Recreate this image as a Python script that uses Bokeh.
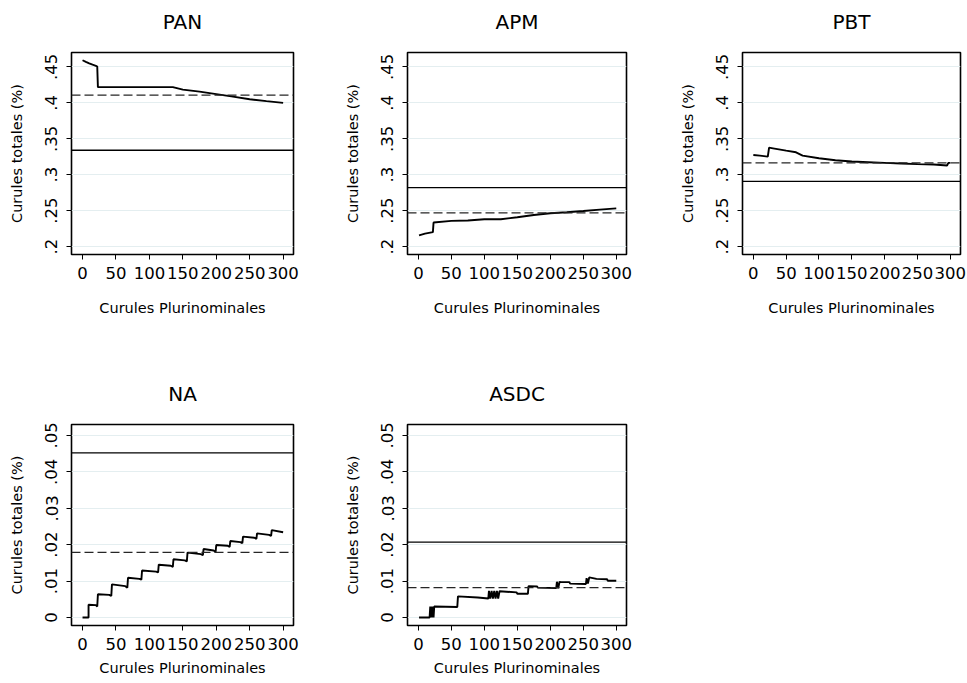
from bokeh.plotting import figure
from bokeh.layouts import column, row
from bokeh.models import Range1d, FixedTicker, Span, CustomJSTickFormatter, LinearAxis
from bokeh.embed import file_html
from bokeh.resources import INLINE

# ---------------- data ----------------
titles = ["PAN", "APM", "PBT", "NA", "ASDC"]

pan_x = [0, 5, 10, 15, 20, 22, 23, 50, 100, 135, 150, 175, 200, 225, 250, 275, 300]
pan_y = [0.4592, 0.4570, 0.4549, 0.4530, 0.4515, 0.4505, 0.4218, 0.4218, 0.4218, 0.4218,
         0.4184, 0.4155, 0.4121, 0.4087, 0.4049, 0.4024, 0.4000]
pan_solid, pan_dash = 0.334, 0.4107

apm_x = [1, 10, 22, 23, 50, 75, 100, 125, 150, 175, 200, 225, 250, 275, 300]
apm_y = [0.2156, 0.2180, 0.2202, 0.2335, 0.2358, 0.2362, 0.2381, 0.2381, 0.2408,
         0.2440, 0.2463, 0.2477, 0.2495, 0.2514, 0.2532]
apm_solid, apm_dash = 0.282, 0.247

pbt_x = [0, 10, 22, 24, 30, 50, 65, 75, 100, 125, 150, 175, 200, 225, 250, 275, 295, 297, 300]
pbt_y = [0.3275, 0.3266, 0.3252, 0.3376, 0.3367, 0.3335, 0.3312, 0.3266, 0.3229, 0.3202,
         0.3183, 0.3174, 0.3165, 0.3156, 0.3147, 0.3142, 0.3128, 0.3165, 0.3165]
pbt_solid, pbt_dash = 0.2908, 0.3165

na_x = [0, 9, 9, 20, 22, 23, 40, 43, 44, 64, 67, 68, 85, 88, 89, 110, 113, 114, 132, 135,
        136, 153, 156, 157, 177, 180, 181, 196, 199, 200, 217, 220, 221, 236, 239, 240,
        257, 260, 261, 279, 282, 283, 300]
na_y = [0, 0, 0.0035, 0.0034, 0.0030, 0.0064, 0.0062, 0.0059, 0.0091, 0.0086, 0.0082,
        0.0109, 0.0106, 0.0104, 0.0129, 0.0126, 0.0124, 0.0145, 0.0142, 0.0139, 0.0160,
        0.0157, 0.0154, 0.0178, 0.0174, 0.0171, 0.0188, 0.0184, 0.0180, 0.0199, 0.0197,
        0.0194, 0.0210, 0.0207, 0.0204, 0.0222, 0.0219, 0.0216, 0.0231, 0.0227, 0.0224,
        0.0240, 0.0234]
na_solid, na_dash = 0.0452, 0.0179

asdc_x = [1, 17, 18, 19, 20, 21, 22, 23, 24, 59, 60, 90, 106, 107, 109, 111, 113, 115, 117,
          119, 121, 123, 149, 150, 166, 167, 180, 181, 209, 210, 212, 214, 216, 229, 230,
          254, 255, 257, 259, 270, 286, 287, 300]
asdc_y = [0, 0, 0.0030, 0, 0.0030, 0, 0.0030, 0, 0.0030, 0.0029, 0.0058, 0.0055, 0.0052,
          0.0073, 0.0052, 0.0073, 0.0052, 0.0073, 0.0052, 0.0073, 0.0052, 0.0072, 0.0069,
          0.0065, 0.0065, 0.0086, 0.0085, 0.0082, 0.0081, 0.0098, 0.0080, 0.0098, 0.0097,
          0.0097, 0.0093, 0.0092, 0.0108, 0.0093, 0.0110, 0.0106, 0.0105, 0.0101, 0.0101]
asdc_solid, asdc_dash = 0.0207, 0.0082

x_ticks = [0, 50, 100, 150, 200, 250, 300]
y_ticks_top = [0.2, 0.25, 0.3, 0.35, 0.4, 0.45]
y_ticks_bottom = [0, 0.01, 0.02, 0.03, 0.04, 0.05]

x_label = "Curules Plurinominales"
y_label = "Curules totales (%)"

FONT = "DejaVu Sans"
X_LO, X_HI = -16.5, 315.5
yfmt = CustomJSTickFormatter(code="""
let s = (Math.round(tick*1000)/1000).toString();
return s.replace(/^0\\./, '.');
""")


def make(title, xs, ys, solid, dash, yr, yticks, width, bl, br, height, bt, bb, lab_stand):
    p = figure(width=width, height=height, output_backend="svg", toolbar_location=None,
               x_range=Range1d(X_LO, X_HI), y_range=Range1d(*yr),
               min_border_left=bl, min_border_right=br, min_border_top=bt,
               min_border_bottom=bb, background_fill_color="white",
               border_fill_color="white")
    p.outline_line_color = "black"
    p.outline_line_width = 1.6
    p.outline_line_alpha = 1.0

    p.xaxis.ticker = FixedTicker(ticks=x_ticks)
    p.yaxis.ticker = FixedTicker(ticks=yticks)
    p.yaxis.formatter = yfmt
    p.yaxis.major_label_orientation = "vertical"
    for ax in (p.xaxis, p.yaxis):
        ax.axis_line_color = None
        ax.major_tick_line_color = "black"
        ax.major_tick_line_width = 1
        ax.major_tick_out = 5
        ax.major_tick_in = 0
        ax.minor_tick_line_color = None
        ax.major_label_text_font = FONT
        ax.major_label_text_font_size = "16.5px"
        ax.major_label_text_color = "black"
        ax.axis_label_text_font = FONT
        ax.axis_label_text_font_size = "14.5px"
        ax.axis_label_text_font_style = "normal"
        ax.axis_label_text_color = "black"
    p.xaxis.major_label_standoff = 7
    p.yaxis.major_label_standoff = 9
    p.xaxis.axis_label = x_label
    p.yaxis.axis_label = y_label
    p.xaxis.axis_label_standoff = lab_stand
    p.yaxis.axis_label_standoff = 18

    # panel title: an empty axis above the frame that only carries the title text
    tax = LinearAxis(ticker=FixedTicker(ticks=[]), axis_label=title,
                     axis_line_color=None, major_tick_line_color=None,
                     minor_tick_line_color=None, major_tick_out=0, major_tick_in=0,
                     major_label_standoff=0, axis_label_standoff=19,
                     axis_label_text_font=FONT, axis_label_text_font_size="20px",
                     axis_label_text_font_style="normal", axis_label_text_color="black")
    p.add_layout(tax, "above")

    p.xgrid.visible = False
    p.ygrid.ticker = FixedTicker(ticks=yticks)
    p.ygrid.grid_line_color = "#e4eef0"
    p.ygrid.grid_line_width = 1

    p.add_layout(Span(location=solid, dimension="width", line_color="black", line_width=1.3))
    p.add_layout(Span(location=dash, dimension="width", line_color="#262626",
                      line_width=1.3, line_dash="9 4"))
    p.line(xs, ys, line_color="black", line_width=1.9)
    return p


top_r = (0.189, 0.470)
bot_r = (-0.0022, 0.053)

p1 = make(titles[0], pan_x, pan_y, pan_solid, pan_dash, top_r, y_ticks_top, 341, 71, 48, 378, 52, 124, 18)
p2 = make(titles[1], apm_x, apm_y, apm_solid, apm_dash, top_r, y_ticks_top, 335, 63, 50, 378, 52, 124, 18)
p3 = make(titles[2], pbt_x, pbt_y, pbt_solid, pbt_dash, top_r, y_ticks_top, 290, 63, 6, 378, 52, 124, 18)
p4 = make(titles[3], na_x, na_y, na_solid, na_dash, bot_r, y_ticks_bottom, 341, 71, 48, 304, 44, 57, 7)
p5 = make(titles[4], asdc_x, asdc_y, asdc_solid, asdc_dash, bot_r, y_ticks_bottom, 335, 63, 50, 304, 44, 57, 7)

layout = column(row(p1, p2, p3, spacing=0), row(p4, p5, spacing=0), spacing=0)
open("out.html", "w").write(file_html(layout, INLINE))
